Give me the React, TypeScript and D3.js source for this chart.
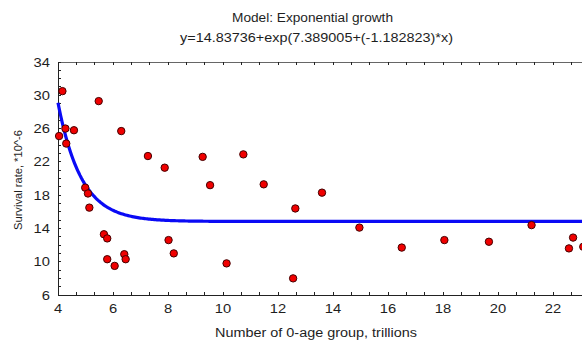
import React, { useEffect, useRef } from 'react';
import * as d3 from 'd3';

// observed points (x: number of 0-age group, trillions; y: survival rate *10^-6)
const xValues = [4.04, 4.16, 4.27, 4.3, 4.58, 5.48, 4.99, 5.09, 6.3, 7.27, 7.88, 9.26, 10.74, 9.53, 11.48, 13.6,
  5.14, 5.67, 5.79, 5.79, 6.06, 6.41, 6.46, 8.02, 8.21, 10.13, 12.55, 12.63, 14.96, 16.5, 18.05, 19.67, 21.22,
  22.58, 22.73, 23.1];
const yValues = [25.1, 30.5, 26.0, 24.2, 25.8, 29.3, 18.9, 18.2, 25.7, 22.7, 21.3, 22.6, 22.9, 19.2, 19.3, 18.3,
  16.5, 13.3, 12.8, 10.3, 9.5, 10.9, 10.3, 12.6, 11.0, 9.8, 8.0, 16.4, 14.1, 11.7, 12.6, 12.4, 14.4,
  11.6, 12.9, 11.8];

// fitted model y = a + exp(b + c*x)
const modelA = 14.83736;
const modelB = 7.389005;
const modelC = -1.182823;

const xMajorTicks = [4, 6, 8, 10, 12, 14, 16, 18, 20, 22];
const yMajorTicks = [6, 10, 14, 18, 22, 26, 30, 34];

const App = () => {
  const svgRef = useRef<SVGSVGElement>(null);

  useEffect(() => {
    const svg = d3.select(svgRef.current);
    svg.selectAll('*').remove();

    const margin = { top: 62, left: 58, bottom: 295 };
    const x = d3.scaleLinear().domain([4, 24]).range([margin.left, margin.left + 20 * 27.5]);
    const y = d3.scaleLinear().domain([6, 34]).range([margin.bottom, margin.top]);
    const font = 'Liberation Sans, Arial, sans-serif';
    const ink = '#1e1e1e';

    // helper: the original text is a little wider than plain Arial, so stretch to measured widths
    const label = (tx: number, ty: number, str: string, len: number, size = 12.5) =>
      svg.append('text').attr('x', tx).attr('y', ty).attr('text-anchor', 'middle')
        .attr('textLength', len).attr('lengthAdjust', 'spacingAndGlyphs')
        .style('font', `${size}px ${font}`).attr('fill', ink).text(str);

    // title
    label(312.5, 22, 'Model: Exponential growth', 161);
    label(316.5, 42, 'y=14.83736+exp(7.389005+(-1.182823)*x)', 273);

    const xMinor = d3.range(4, 24.01, 2 / 3);
    const yMinor = d3.range(6, 34.01, 1);

    // axes frame
    const g = svg.append('g').attr('stroke', '#222').attr('stroke-width', 1).attr('shape-rendering', 'crispEdges');
    g.append('line').attr('x1', x(4)).attr('x2', 582).attr('y1', y(6)).attr('y2', y(6));
    g.append('line').attr('x1', x(4)).attr('x2', 582).attr('y1', y(34)).attr('y2', y(34)).attr('stroke', '#666');
    g.append('line').attr('x1', x(4)).attr('x2', x(4)).attr('y1', y(6)).attr('y2', y(34));

    // inward ticks
    xMinor.forEach((v) => {
      g.append('line').attr('x1', x(v)).attr('x2', x(v)).attr('y1', y(6)).attr('y2', y(6) - 3);
      g.append('line').attr('x1', x(v)).attr('x2', x(v)).attr('y1', y(34)).attr('y2', y(34) + 3);
    });
    yMinor.forEach((v) => {
      g.append('line').attr('x1', x(4)).attr('x2', x(4) + 3).attr('y1', y(v)).attr('y2', y(v));
    });

    // tick labels
    svg.append('g').selectAll('text').data(xMajorTicks).enter().append('text')
      .attr('x', (d) => x(d)).attr('y', y(6) + 18).attr('text-anchor', 'middle')
      .attr('textLength', (d) => String(d).length * 8.2).attr('lengthAdjust', 'spacingAndGlyphs')
      .style('font', `12.5px ${font}`).attr('fill', ink).text((d) => d);
    svg.append('g').selectAll('text').data(yMajorTicks).enter().append('text')
      .attr('x', x(4) - 8).attr('y', (d) => y(d) + 4.5).attr('text-anchor', 'end')
      .attr('textLength', (d) => String(d).length * 8.2).attr('lengthAdjust', 'spacingAndGlyphs')
      .style('font', `12.5px ${font}`).attr('fill', ink).text((d) => d);

    // axis titles
    label(316, 337, 'Number of 0-age group, trillions', 202);
    svg.append('text').attr('transform', `translate(21.5,180) rotate(-90)`)
      .attr('text-anchor', 'middle').attr('textLength', 100).attr('lengthAdjust', 'spacingAndGlyphs')
      .style('font', `11.5px ${font}`).attr('fill', ink)
      .text('Survival rate, *10^-6');

    // fitted curve
    const curveX = d3.range(4, 24.001, 0.05);
    const line = d3.line<number>().x((d) => x(d)).y((d) => y(modelA + Math.exp(modelB + modelC * d)));
    svg.append('path').datum(curveX).attr('d', line).attr('fill', 'none')
      .attr('stroke', '#0a0af5').attr('stroke-width', 3.2);

    // points
    svg.append('g').selectAll('circle').data(xValues).enter().append('circle')
      .attr('cx', (d) => x(d)).attr('cy', (d, i) => y(yValues[i])).attr('r', 3.7)
      .attr('fill', '#f00000').attr('stroke', '#400').attr('stroke-width', 1);
  }, []);

  return (
    <svg ref={svgRef} width={582} height={341}
      style={{ position: 'absolute', left: 0, top: 0, background: '#fff' }} />
  );
};

export default App;
